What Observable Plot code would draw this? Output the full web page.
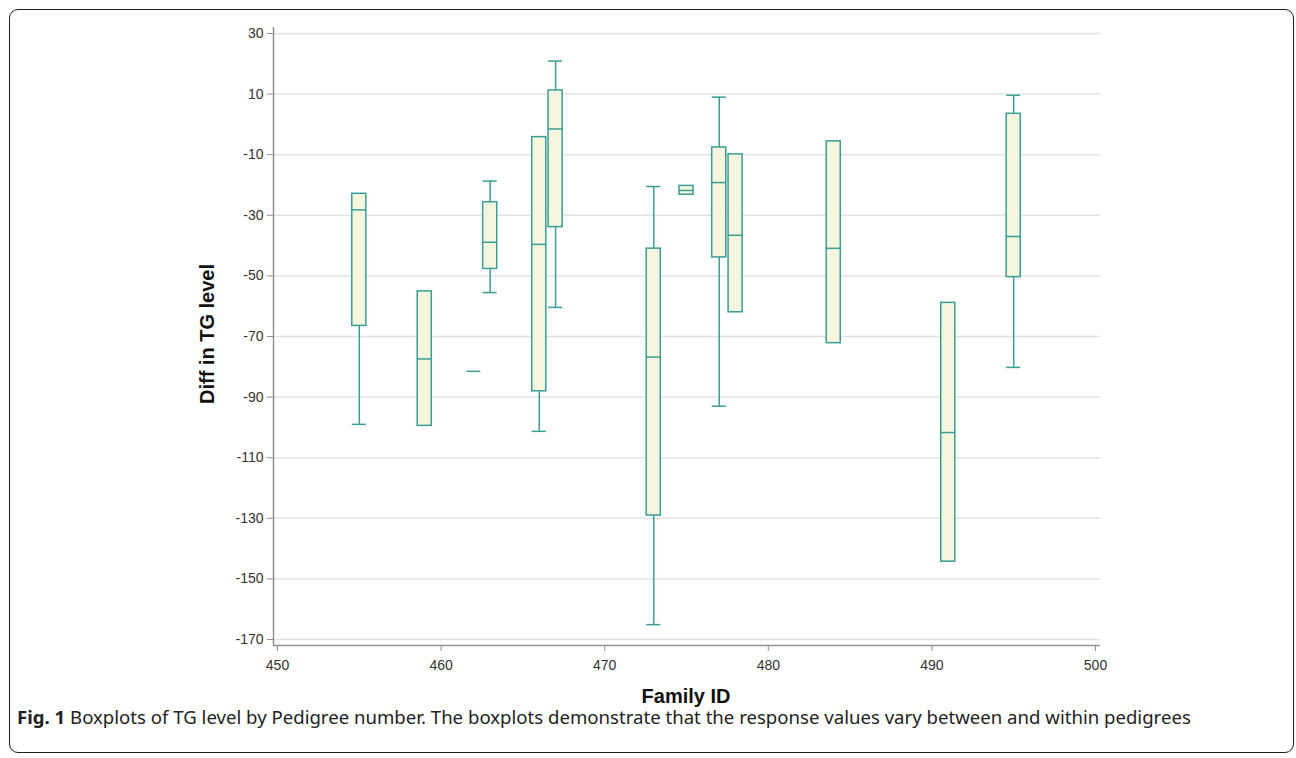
<!DOCTYPE html>
<html>
<head>
<meta charset="utf-8">
<script src="https://cdn.jsdelivr.net/npm/d3@7"></script>
<script src="https://cdn.jsdelivr.net/npm/@observablehq/plot@0.6"></script>
<style>
  html, body { margin: 0; padding: 0; background: #fff; }
  #frame { position: absolute; left: 9px; top: 9px; width: 1285px; height: 744px; box-sizing: border-box;
           border: 1.6px solid #1e1e1e; border-radius: 9px; }
  #chart { position: absolute; left: 0; top: 0; }
  .axlab { position: absolute; font-family: "Liberation Sans", Arial, sans-serif; font-weight: bold; font-size: 20px;
           color: #111; white-space: nowrap; line-height: 16px; }
  #ylab { left: 207px; top: 334px; transform: translate(-50%, -50%) rotate(-90deg); }
  #xlab { left: 686px; top: 696px; transform: translate(-50%, -50%); }
  #caption { position: absolute; left: 17px; top: 709px; font-family: "Noto Sans", "Open Sans", sans-serif;
             font-size: 18.6px; line-height: 16px; color: #222; white-space: nowrap; }
  #caption b { font-weight: bold; }
</style>
</head>
<body>
<div id="frame"></div>
<div id="chart"></div>
<div id="ylab" class="axlab">Diff in TG level</div>
<div id="xlab" class="axlab">Family ID</div>
<div id="caption"><b>Fig. 1</b> Boxplots of TG level by Pedigree number. The boxplots demonstrate that the response values vary between and within pedigrees</div>
<script>
// Family IDs and box statistics (null = no whisker drawn)
const family      = [455,   459,   462,   463,   466,    467,   473,    475,   477,   478,   484,   491,    495];
const whiskerLow  = [-99.0, null,  null,  -55.5, -101.3, -60.4, -165.1, null,  -93.0, null,  null,  null,   -80.2];
const q1          = [-66.5, -99.5, -81.5, -47.7, -88.1,  -33.9, -129.1, -23.2, -43.9, -62.0, -72.2, -144.3, -50.4];
const median      = [-28.2, -77.4, -81.5, -38.9, -39.6,  -1.5,  -76.8,  -21.8, -19.2, -36.6, -40.9, -101.7, -37.0];
const q3          = [-22.9, -55.1, -81.5, -25.7, -4.2,   11.2,  -41.0,  -20.3, -7.6,  -9.9,  -5.6,  -58.9,  3.5];
const whiskerHigh = [null,  null,  null,  -18.7, null,   20.9,  -20.5,  null,  9.0,   null,  null,  null,   9.6];

const xTicks = [450, 460, 470, 480, 490, 500];
const yTicks = [30, 10, -10, -30, -50, -70, -90, -110, -130, -150, -170];
const xDomain = [449.755, 500.306];
const yDomain = [-171.98, 31.98];

const boxes = family.map((f, i) => ({
  family: f, lo: whiskerLow[i], q1: q1[i], median: median[i], q3: q3[i], hi: whiskerHigh[i]
}));
const realBoxes = boxes.filter(d => d.q3 !== d.q1);
const lowW = boxes.filter(d => d.lo !== null);
const highW = boxes.filter(d => d.hi !== null);

const hw = 0.43;
const stroke = "#3a9d96";
const fill = "#f6f5dd";
const axisColor = "#8e9296";
const fmt = d => String(d);

const chart = Plot.plot({
  width: 1296,
  height: 720,
  marginLeft: 273,
  marginRight: 196,
  marginTop: 27,
  marginBottom: 75,
  style: { fontFamily: "'Liberation Sans', Arial, sans-serif", fontSize: "14px", color: "#333", background: "transparent" },
  x: { domain: xDomain, label: null },
  y: { domain: yDomain, label: null },
  marks: [
    Plot.gridY(yTicks, { stroke: "#e3e3e3", strokeOpacity: 1, strokeWidth: 1.5 }),
    Plot.axisY(yTicks, { anchor: "left", tickSize: 6, tickPadding: 4, stroke: axisColor, fill: "#333", fontSize: 14, label: null, tickFormat: fmt }),
    Plot.axisX(xTicks, { anchor: "bottom", tickSize: 6, tickPadding: 9, stroke: axisColor, fill: "#333", fontSize: 14, label: null, tickFormat: fmt }),
    Plot.ruleX([xDomain[0]], { stroke: axisColor, strokeWidth: 1.5 }),
    Plot.ruleY([yDomain[0]], { stroke: axisColor, strokeWidth: 1.5 }),
    // whiskers
    Plot.ruleX(lowW, { x: "family", y1: "lo", y2: "q1", stroke, strokeWidth: 1.5 }),
    Plot.ruleX(highW, { x: "family", y1: "q3", y2: "hi", stroke, strokeWidth: 1.5 }),
    Plot.ruleY(lowW, { y: "lo", x1: d => d.family - hw, x2: d => d.family + hw, stroke, strokeWidth: 1.5 }),
    Plot.ruleY(highW, { y: "hi", x1: d => d.family - hw, x2: d => d.family + hw, stroke, strokeWidth: 1.5 }),
    // boxes
    Plot.rect(realBoxes, { x1: d => d.family - hw, x2: d => d.family + hw, y1: "q1", y2: "q3", fill, stroke, strokeWidth: 1.5 }),
    // medians
    Plot.ruleY(boxes, { y: "median", x1: d => d.family - hw, x2: d => d.family + hw, stroke, strokeWidth: 1.5 })
  ]
});
document.getElementById("chart").appendChild(chart);
</script>
</body>
</html>
